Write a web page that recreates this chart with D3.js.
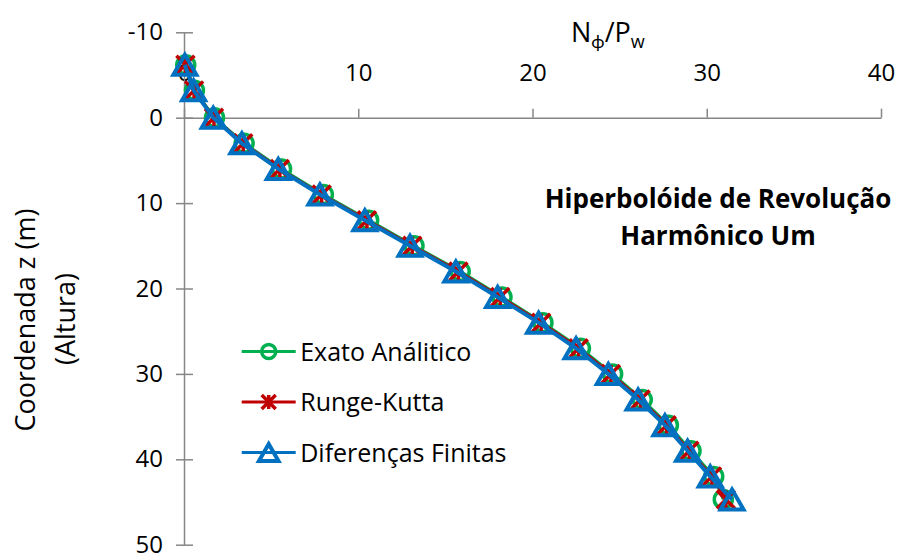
<!DOCTYPE html>
<html>
<head>
<meta charset="utf-8">
<script src="https://cdn.jsdelivr.net/npm/d3@7"></script>
<style>
  body { margin: 0; background: #fff; }
  text { font-family: "Open Sans", Lato, sans-serif; fill: #000; }
</style>
</head>
<body>
<div id="chart"></div>
<script>
// data
const zValues    = [-6.2, -3.2, 0, 3, 6, 9, 12, 15, 18, 21, 24, 27, 30, 33, 36, 39, 42, 44.7];
const exato      = [0.1, 0.6, 1.75, 3.45, 5.6, 8.0, 10.6, 13.2, 15.85, 18.25, 20.6, 22.75, 24.6, 26.3, 27.8, 29.1, 30.4, 30.95];
const rungeKutta = [0.08, 0.58, 1.72, 3.4, 5.5, 7.9, 10.5, 13.1, 15.75, 18.15, 20.5, 22.65, 24.5, 26.2, 27.7, 29.0, 30.3, 31.1];
const difFinitas = [0.05, 0.55, 1.68, 3.32, 5.41, 7.8, 10.38, 12.97, 15.6, 18.0, 20.35, 22.5, 24.35, 26.06, 27.6, 28.9, 30.2, 31.45];
const seriesNames = ["Exato Análitico", "Runge-Kutta", "Diferenças Finitas"];
const xTicks = [0, 10, 20, 30, 40];
const yTicks = [-10, 0, 10, 20, 30, 40, 50];

const width = 899, height = 560;
const tickFont = 24;

const svg = d3.select("#chart")
    .append("svg")
    .attr("width", width)
    .attr("height", height);

const x = d3.scaleLinear().domain([0, 40]).range([184, 881]);
const y = d3.scaleLinear().domain([-10, 50]).range([32.3, 544.7]);

const axisColor = "#868686";

// x axis at z = 0, labels above
const xAxis = svg.append("g")
    .attr("transform", `translate(0,${y(0)})`)
    .call(d3.axisTop(x).tickValues(xTicks).tickFormat(d => String(d))
        .tickSize(9).tickSizeOuter(0).tickPadding(28));
xAxis.select(".domain").attr("stroke", axisColor).attr("stroke-width", 1.5);
xAxis.selectAll(".tick line").attr("stroke", axisColor).attr("stroke-width", 1.5);
xAxis.selectAll(".tick text").attr("font-size", tickFont).attr("font-family", "'Open Sans', sans-serif");

// y axis with crossing ticks
const yAxis = svg.append("g")
    .attr("transform", `translate(${x(0)},0)`)
    .call(d3.axisLeft(y).tickValues(yTicks).tickFormat(d => String(d)).tickSizeOuter(0));
yAxis.select(".domain").attr("stroke", axisColor).attr("stroke-width", 1.5);
yAxis.selectAll(".tick line").attr("stroke", axisColor).attr("stroke-width", 1.5)
    .attr("x1", -8).attr("x2", 9);
yAxis.selectAll(".tick text").attr("font-size", tickFont).attr("font-family", "'Open Sans', sans-serif")
    .attr("x", -21);

// axis titles
const xt = svg.append("text")
    .attr("x", 571).attr("y", 42)
    .attr("font-size", 27);
xt.append("tspan").text("N");
xt.append("tspan").attr("font-size", 18).attr("dy", 6).text("ϕ");
xt.append("tspan").attr("dy", -6).text("/P");
xt.append("tspan").attr("font-size", 18).attr("dy", 6).text("w");

svg.append("text")
    .attr("transform", "translate(35,320) rotate(-90)")
    .attr("text-anchor", "middle")
    .attr("font-size", 27)
    .text("Coordenada z (m)");
svg.append("text")
    .attr("transform", "translate(75,319) rotate(-90)")
    .attr("text-anchor", "middle")
    .attr("font-size", 27)
    .text("(Altura)");

// chart title
svg.append("text")
    .attr("x", 718).attr("y", 208)
    .attr("text-anchor", "middle")
    .attr("font-size", 26).attr("font-weight", "bold")
    .text("Hiperbolóide de Revolução");
svg.append("text")
    .attr("x", 718).attr("y", 245)
    .attr("text-anchor", "middle")
    .attr("font-size", 26).attr("font-weight", "bold")
    .text("Harmônico Um");

// series
const colors = ["#00B050", "#C00000", "#0070C0"];
const values = [exato, rungeKutta, difFinitas];
const line = d3.line().x(d => x(d[0])).y(d => y(d[1]));

function drawMarker(g, type, color, s) {
    if (type === 0) {
        g.append("circle").attr("r", s).attr("fill", "none")
            .attr("stroke", color).attr("stroke-width", 3.5);
    } else if (type === 1) {
        g.append("path")
            .attr("d", `M${-s},${-s}L${s},${s}M${-s},${s}L${s},${-s}M0,${-s}L0,${s}`)
            .attr("stroke", color).attr("stroke-width", 3.5).attr("fill", "none");
    } else {
        g.append("path")
            .attr("d", `M0,${-s}L${s * 1.15},${s}L${-s * 1.15},${s}Z`)
            .attr("stroke", color).attr("stroke-width", 4).attr("fill", "none")
            .attr("stroke-linejoin", "miter");
    }
}

const markerSize = [9, 9, 10];
values.forEach((vals, i) => {
    const pts = vals.map((v, j) => [v, zValues[j]]);
    svg.append("path")
        .datum(pts)
        .attr("fill", "none")
        .attr("stroke", colors[i])
        .attr("stroke-width", i === 2 ? 4 : 3)
        .attr("d", line);
    svg.selectAll(null)
        .data(pts)
        .enter().append("g")
        .attr("transform", d => `translate(${x(d[0])},${y(d[1])})`)
        .each(function () { drawMarker(d3.select(this), i, colors[i], markerSize[i]); });
});

// legend
const legend = svg.append("g")
    .selectAll("g")
    .data(seriesNames)
    .enter().append("g")
    .attr("transform", (d, i) => `translate(241.7,${351.5 + i * 50.5})`);

legend.append("line")
    .attr("x1", 0).attr("x2", 54)
    .attr("stroke", (d, i) => colors[i])
    .attr("stroke-width", 3);
legend.append("g")
    .attr("transform", "translate(27,0)")
    .each(function (d, i) { drawMarker(d3.select(this), i, colors[i], [7, 7, 8.5][i]); });
legend.append("text")
    .attr("x", 58.5)
    .attr("y", 9)
    .attr("font-size", 25)
    .text(d => d);
</script>
</body>
</html>
